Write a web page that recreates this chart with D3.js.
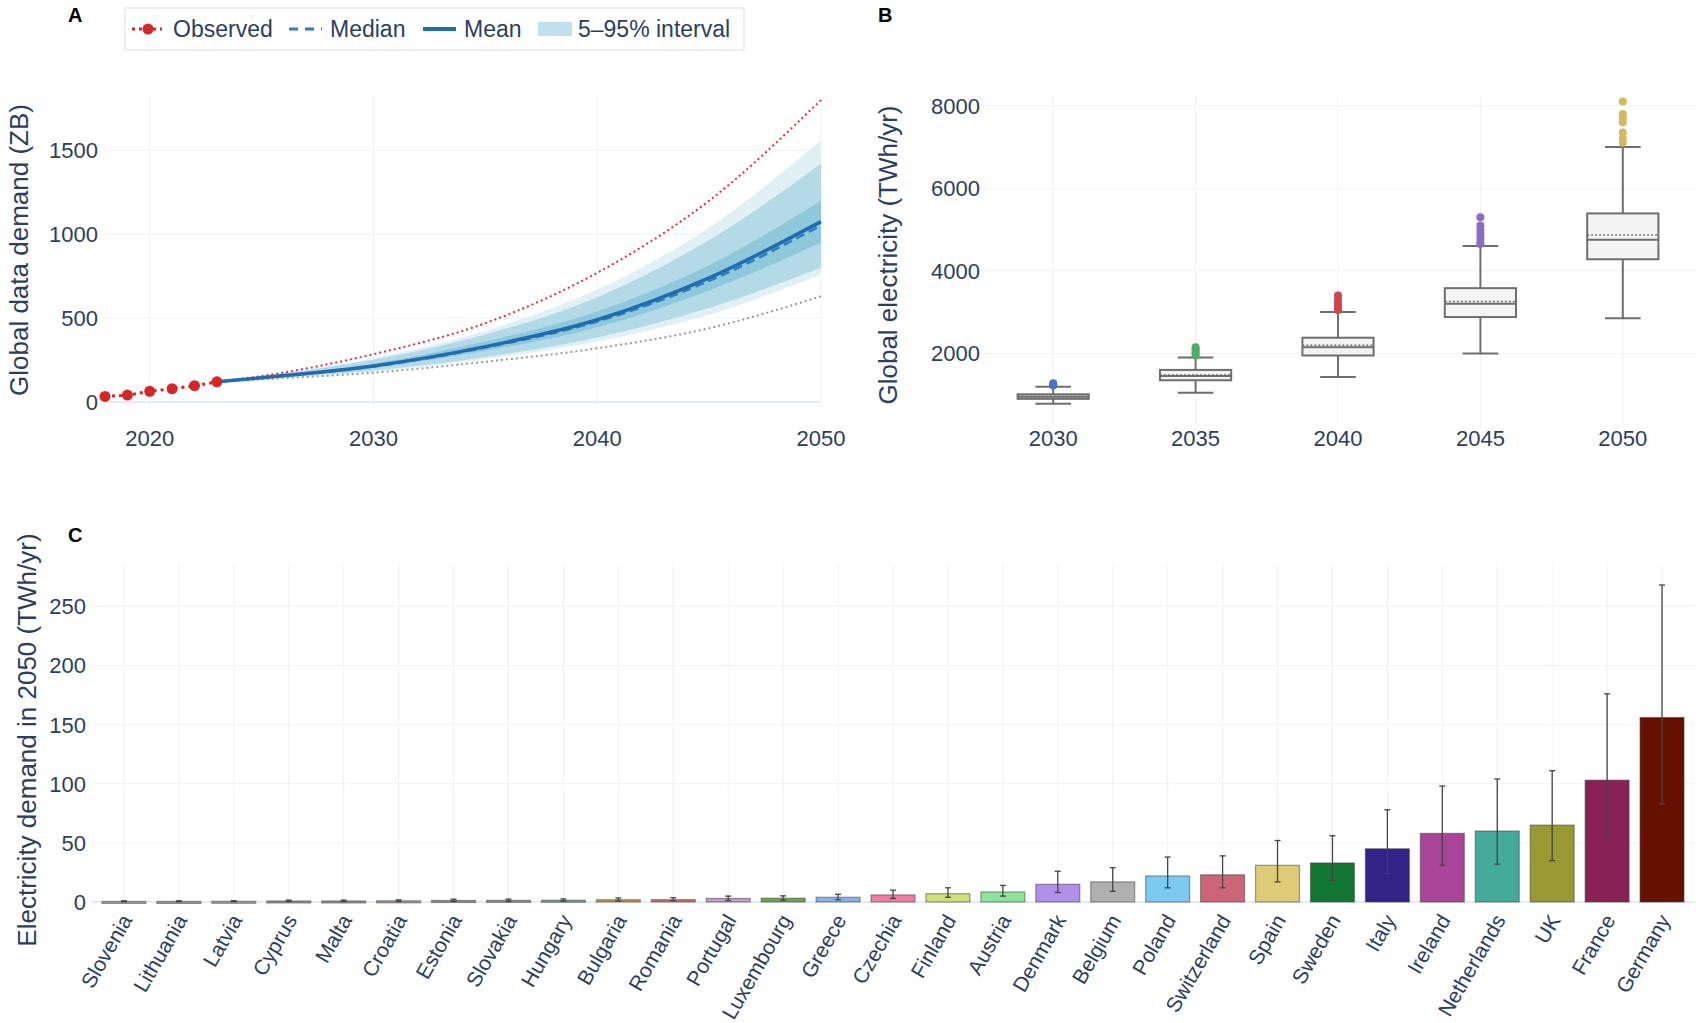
<!DOCTYPE html>
<html><head><meta charset="utf-8">
<script src="https://cdn.jsdelivr.net/npm/d3@7"></script>
<style>body{margin:0;background:#fff}text{font-family:"Liberation Sans",Arial,sans-serif}</style>
</head><body><svg id="c" width="1700" height="1023"></svg>
<script>
// ---- Panel A data ----
const obsYears=[2018,2019,2020,2021,2022,2023];
const obsVals=[33,41,64,79,97,120];
const projYears=[2023,2025,2030,2035,2040,2045,2050];
const meanVals=[120,145,215,330,490,740,1075];
const medianVals=[120,144,212,325,480,722,1052];
const highVals=[120,155,285,470,770,1200,1800];
const lowVals=[120,135,175,240,320,440,630];
const minVals=[120,136,180,255,360,520,760];
const maxVals=[120,156,262,425,670,1040,1560];
const p5Vals=[120,138,188,268,385,560,800];
const p95Vals=[120,153,252,402,625,965,1420];
const p25Vals=[120,142,204,305,445,665,950];
const p75Vals=[120,148,228,360,540,815,1200];
const aTicksX=[2020,2030,2040,2050];
const aTicksY=[0,500,1000,1500];
// ---- Panel B data ----
const bYears=["2030","2035","2040","2045","2050"];
const bQ1=[900,1350,1950,2880,4280];
const bQ3=[1010,1600,2380,3580,5390];
const bMed=[950,1450,2150,3200,4750];
const bMean=[965,1480,2200,3260,4870];
const bLo=[780,1050,1430,2000,2850];
const bHi=[1190,1900,3000,4600,7000];
const bOut=[[1220,1250,1280],[1950,2000,2050,2100,2150],[3050,3100,3150,3200,3300,3400],[4650,4700,4800,4900,5000,5100,5300],[7100,7200,7350,7600,7700,7800,8100]];
const bOutColors=["#4a72c4","#4caf60","#d0464a","#8a6cc4","#d4b862"];
const bTicksY=[2000,4000,6000,8000];
// ---- Panel C data ----
const countries=["Slovenia","Lithuania","Latvia","Cyprus","Malta","Croatia","Estonia","Slovakia","Hungary","Bulgaria","Romania","Portugal","Luxembourg","Greece","Czechia","Finland","Austria","Denmark","Belgium","Poland","Switzerland","Spain","Sweden","Italy","Ireland","Netherlands","UK","France","Germany"];
const demand=[0.5,0.5,0.6,0.9,0.9,1.0,1.3,1.4,1.5,1.9,2.0,3.0,3.2,4.0,6.0,7.0,8.5,15,17,22,23,31,33,45,58,60,65,103,156];
const errLo=[0.2,0.2,0.3,0.4,0.4,0.5,0.6,0.6,0.7,0.9,1.0,1.3,1.5,2.0,3.0,4.0,5.0,8,9,12,12,17,18,24,31,32,35,55,83];
const errHi=[1.0,1.0,1.1,1.6,1.6,1.8,2.4,2.5,2.6,3.4,3.6,5.0,5.2,6.5,10,12,14,26,29,38,39,52,56,78,98,104,111,176,268];
const barColors=["#a8a8a8","#a0a0a0","#a6a6a6","#b08a8a","#9a9a80","#b8a080","#a09080","#909898","#70a8a0","#c8a040","#d87060","#c898d8","#6aaa44","#8ab0e8","#f27ba0","#cfe07a","#8ee49a","#b08fe8","#b0b0b0","#7ccaf0","#cc6677","#ddcc77","#117733","#332288","#aa4499","#44aa99","#999933","#882255","#661100"];
const cTicksY=[0,50,100,150,200,250];

const ink="#2a3f5f", grid="#eef1f6";
const svg=d3.select("#c");

// ===== Panel A =====
const ax=d3.scaleLinear().domain([2018,2050]).range([105,821]);
const ay=d3.scaleLinear().domain([0,1800]).range([402,100]);
const A=svg.append("g");
aTicksX.forEach(t=>A.append("line").attr("x1",ax(t)).attr("x2",ax(t)).attr("y1",95).attr("y2",408).attr("stroke",grid));
aTicksY.forEach(t=>A.append("line").attr("x1",105).attr("x2",821).attr("y1",ay(t)).attr("y2",ay(t)).attr("stroke",t===0?"#e4ecf6":grid).attr("stroke-width",t===0?2:1));
const area=(lo,hi)=>d3.area().x((d,i)=>ax(projYears[i])).y0((d,i)=>ay(lo[i])).y1((d,i)=>ay(hi[i])).curve(d3.curveMonotoneX)(projYears);
A.append("path").attr("d",area(minVals,maxVals)).attr("fill","#d8ecf3").attr("opacity",0.8);
A.append("path").attr("d",area(p5Vals,p95Vals)).attr("fill","#a9d5e5").attr("opacity",0.8);
A.append("path").attr("d",area(p25Vals,p75Vals)).attr("fill","#7fbfd6").attr("opacity",0.7);
const ln=vals=>d3.line().x((d,i)=>ax(projYears[i])).y((d,i)=>ay(vals[i])).curve(d3.curveMonotoneX)(projYears);
A.append("path").attr("d",ln(highVals)).attr("fill","none").attr("stroke","#e0303c").attr("stroke-width",2).attr("stroke-dasharray","2,3");
A.append("path").attr("d",ln(lowVals)).attr("fill","none").attr("stroke","#999").attr("stroke-width",2).attr("stroke-dasharray","2,3");
A.append("path").attr("d",ln(medianVals)).attr("fill","none").attr("stroke","#2e7dbf").attr("stroke-width",2.5).attr("stroke-dasharray","9,5");
A.append("path").attr("d",ln(meanVals)).attr("fill","none").attr("stroke","#1f6cb0").attr("stroke-width",3.5);
A.append("path").attr("d",d3.line().x((d,i)=>ax(d)).y((d,i)=>ay(obsVals[i]))(obsYears)).attr("fill","none").attr("stroke","#d62728").attr("stroke-width",3).attr("stroke-dasharray","3,4");
A.selectAll(".ob").data(obsYears).join("circle").attr("cx",d=>ax(d)).attr("cy",(d,i)=>ay(obsVals[i])).attr("r",5.5).attr("fill","#d62728");
aTicksX.forEach(t=>A.append("text").attr("x",ax(t)).attr("y",446).attr("text-anchor","middle").attr("font-size",22).attr("fill",ink).text(t));
aTicksY.forEach(t=>A.append("text").attr("x",98).attr("y",ay(t)+8).attr("text-anchor","end").attr("font-size",22).attr("fill",ink).text(t));
A.append("text").attr("transform","translate(28,250) rotate(-90)").attr("text-anchor","middle").attr("font-size",26).attr("fill",ink).text("Global data demand (ZB)");
A.append("text").attr("x",68).attr("y",22).attr("font-size",20).attr("font-weight","bold").text("A");
// legend
const L=svg.append("g");
L.append("rect").attr("x",125).attr("y",8).attr("width",619).attr("height",42).attr("fill","#fff").attr("stroke","#ddd");
L.append("line").attr("x1",132).attr("x2",162).attr("y1",29).attr("y2",29).attr("stroke","#d62728").attr("stroke-width",3).attr("stroke-dasharray","3,4");
L.append("circle").attr("cx",148).attr("cy",29).attr("r",5.5).attr("fill","#d62728");
L.append("text").attr("x",173).attr("y",37).attr("font-size",23).attr("fill",ink).text("Observed");
L.append("line").attr("x1",289).attr("x2",322).attr("y1",29).attr("y2",29).attr("stroke","#2e7dbf").attr("stroke-width",3).attr("stroke-dasharray","9,7");
L.append("text").attr("x",330).attr("y",37).attr("font-size",23).attr("fill",ink).text("Median");
L.append("line").attr("x1",423).attr("x2",456).attr("y1",29).attr("y2",29).attr("stroke","#1f6cb0").attr("stroke-width",4);
L.append("text").attr("x",464).attr("y",37).attr("font-size",23).attr("fill",ink).text("Mean");
L.append("rect").attr("x",538).attr("y",22).attr("width",34).attr("height",14).attr("fill","#bfe0ec");
L.append("text").attr("x",578).attr("y",37).attr("font-size",23).attr("fill",ink).text("5–95% interval");

// ===== Panel B =====
const bx=d3.scaleBand().domain(bYears).range([982,1694]).padding(0);
const by=d3.scaleLinear().domain([0,8500]).range([436,85]);
const B=svg.append("g");
bYears.forEach(t=>B.append("line").attr("x1",bx(t)+bx.bandwidth()/2).attr("x2",bx(t)+bx.bandwidth()/2).attr("y1",95).attr("y2",425).attr("stroke",grid));
bTicksY.forEach(t=>B.append("line").attr("x1",976).attr("x2",1697).attr("y1",by(t)).attr("y2",by(t)).attr("stroke",grid));
const bw=bx.bandwidth()*0.5;
bYears.forEach((y,i)=>{
  const cx=bx(y)+bx.bandwidth()/2, x0=cx-bw/2, g="#6e6e6e";
  B.append("line").attr("x1",cx).attr("x2",cx).attr("y1",by(bLo[i])).attr("y2",by(bHi[i])).attr("stroke",g).attr("stroke-width",2);
  [bLo[i],bHi[i]].forEach(v=>B.append("line").attr("x1",cx-bw/4).attr("x2",cx+bw/4).attr("y1",by(v)).attr("y2",by(v)).attr("stroke",g).attr("stroke-width",2));
  B.append("rect").attr("x",x0).attr("width",bw).attr("y",by(bQ3[i])).attr("height",by(bQ1[i])-by(bQ3[i])).attr("fill","#f4f4f4").attr("stroke",g).attr("stroke-width",2);
  B.append("line").attr("x1",x0).attr("x2",x0+bw).attr("y1",by(bMed[i])).attr("y2",by(bMed[i])).attr("stroke",g).attr("stroke-width",2);
  B.append("line").attr("x1",x0).attr("x2",x0+bw).attr("y1",by(bMean[i])).attr("y2",by(bMean[i])).attr("stroke",g).attr("stroke-width",1.5).attr("stroke-dasharray","2,2");
  bOut[i].forEach(v=>B.append("circle").attr("cx",cx).attr("cy",by(v)).attr("r",4).attr("fill",bOutColors[i]));
  B.append("text").attr("x",cx).attr("y",446).attr("text-anchor","middle").attr("font-size",22).attr("fill",ink).text(y);
});
bTicksY.forEach(t=>B.append("text").attr("x",980).attr("y",by(t)+8).attr("text-anchor","end").attr("font-size",22).attr("fill",ink).text(t));
B.append("text").attr("transform","translate(897,255) rotate(-90)").attr("text-anchor","middle").attr("font-size",26).attr("fill",ink).text("Global electricity (TWh/yr)");
B.append("text").attr("x",878).attr("y",22).attr("font-size",20).attr("font-weight","bold").text("B");

// ===== Panel C =====
const cx=d3.scaleBand().domain(countries).range([91,1695]).padding(0.2);
const cy=d3.scaleLinear().domain([0,268]).range([902,585]);
const C=svg.append("g");
countries.forEach(c=>C.append("line").attr("x1",cx(c)+cx.bandwidth()/2).attr("x2",cx(c)+cx.bandwidth()/2).attr("y1",565).attr("y2",902).attr("stroke",grid));
cTicksY.forEach(t=>C.append("line").attr("x1",91).attr("x2",1695).attr("y1",cy(t)).attr("y2",cy(t)).attr("stroke",t===0?"#e4ecf6":grid).attr("stroke-width",t===0?2:1));
countries.forEach((c,i)=>{
  const x=cx(c), w=cx.bandwidth(), m=x+w/2;
  C.append("rect").attr("x",x).attr("width",w).attr("y",cy(demand[i])).attr("height",Math.max(cy(0)-cy(demand[i]),2)).attr("fill",barColors[i]).attr("stroke","rgba(60,60,60,0.5)").attr("stroke-width",1.2);
  C.append("line").attr("x1",m).attr("x2",m).attr("y1",cy(errLo[i])).attr("y2",cy(errHi[i])).attr("stroke","#444").attr("stroke-width",1.3);
  [errLo[i],errHi[i]].forEach(v=>C.append("line").attr("x1",m-3).attr("x2",m+3).attr("y1",cy(v)).attr("y2",cy(v)).attr("stroke","#444").attr("stroke-width",1.3));
  C.append("text").attr("transform",`translate(${m+9},${920}) rotate(-60)`).attr("text-anchor","end").attr("font-size",21).attr("fill",ink).text(c);
});
cTicksY.forEach(t=>C.append("text").attr("x",86).attr("y",cy(t)+8).attr("text-anchor","end").attr("font-size",22).attr("fill",ink).text(t));
C.append("text").attr("transform","translate(36,740) rotate(-90)").attr("text-anchor","middle").attr("font-size",26).attr("fill",ink).text("Electricity demand in 2050 (TWh/yr)");
C.append("text").attr("x",68).attr("y",542).attr("font-size",20).attr("font-weight","bold").text("C");
</script></body></html>
